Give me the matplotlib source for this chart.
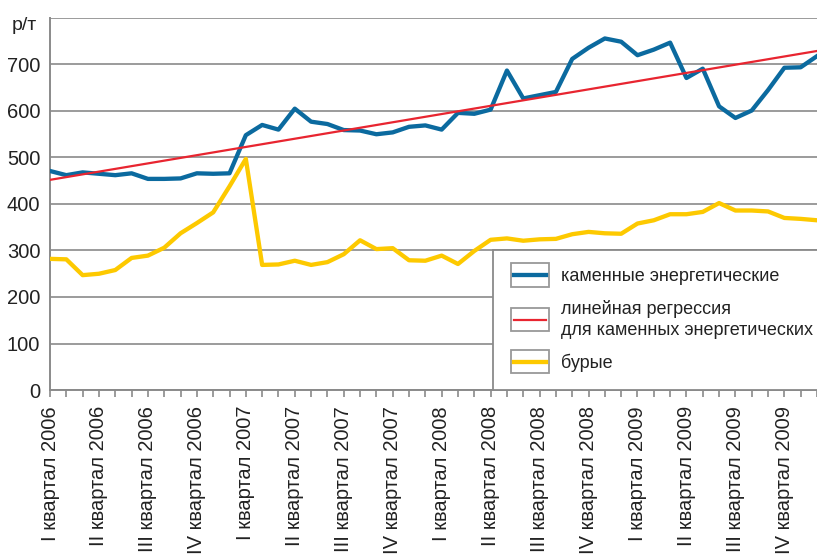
import matplotlib
matplotlib.use('Agg')
import matplotlib.pyplot as plt
import numpy as np
from matplotlib.legend_handler import HandlerLine2D
from matplotlib.lines import Line2D
from matplotlib.patches import Rectangle

plt.rcParams['font.family'] = ['Liberation Sans', 'DejaVu Sans']

# monthly prices, rub/t, Jan 2006 .. Dec 2009
kamennye = [471, 462, 468, 465, 462, 466, 454, 454, 455, 466, 465, 466,
            548, 570, 560, 605, 577, 572, 559, 558, 550, 554, 566, 569,
            560, 596, 594, 603, 687, 627, 634, 641, 712, 736, 756, 749,
            720, 732, 747, 671, 691, 610, 585, 601, 645, 693, 694, 718]
burye = [282, 281, 247, 250, 258, 284, 289, 306, 337, 359, 382, 438,
         497, 269, 270, 278, 269, 275, 292, 322, 303, 305, 279, 278,
         289, 271, 299, 323, 326, 321, 324, 325, 335, 340, 337, 336,
         358, 365, 378, 378, 383, 402, 386, 386, 384, 370, 368, 365]
quarters = ['I', 'II', 'III', 'IV']
years = [2006, 2007, 2008, 2009]
labels = [q + ' квартал ' + str(y) for y in years for q in quarters]

names = ['каменные энергетические',
         'линейная регрессия\nдля каменных энергетических',
         'бурые']

blue = '#0b6a9f'
red = '#e82530'
yellow = '#fdc900'
gray = '#8a8a8a'


class BoxedLine(HandlerLine2D):
    def create_artists(self, legend, orig_handle, xdescent, ydescent,
                       width, height, fontsize, trans):
        cy = (height - ydescent) / 2
        h = fontsize * 1.3
        box = Rectangle((-xdescent, cy - h / 2), width, h, facecolor='white',
                        edgecolor='#999999', lw=1.3, transform=trans)
        ln = Line2D([-xdescent + 2, width - xdescent - 2], [cy, cy],
                    color=orig_handle.get_color(), lw=orig_handle.get_linewidth(),
                    transform=trans)
        return [box, ln]


fig = plt.figure(figsize=(8.17, 5.55), dpi=100)
ax = fig.add_axes([50 / 817, 165 / 555, 767 / 817, 372 / 555])

x = np.arange(len(kamennye))
k, b = np.polyfit(x, kamennye, 1)
xr = np.array([0, len(x)])

l1, = ax.plot(x, kamennye, color=blue, lw=3.1, zorder=3)
l3, = ax.plot(x, burye, color=yellow, lw=3.1, zorder=3)
l2, = ax.plot(xr, k * xr + b, color=red, lw=1.6, zorder=4)

ax.set_xlim(0, 46.5)
ax.set_ylim(0, 800)
ax.set_yticks(range(0, 800, 100))
ax.yaxis.grid(True, color=gray, lw=1.2)
ax.axhline(800, color=gray, lw=1.2, zorder=1)
ax.set_axisbelow(True)
ax.tick_params(axis='y', length=0, pad=7, labelsize=14.5, colors='#222222')

ax.set_xticks(x)
ax.set_xticklabels([labels[i // 3] if i % 3 == 0 else '' for i in x],
                   rotation=90, va='top', ha='center')
ax.tick_params(axis='x', length=5, width=1.2, color=gray, pad=6.5,
               labelsize=14.5, labelcolor='#222222')

for s in ['top', 'right']:
    ax.spines[s].set_visible(False)
for s in ['left', 'bottom']:
    ax.spines[s].set_color(gray)
    ax.spines[s].set_linewidth(1.4)

fig.text(12 / 817, 1 - 30 / 555, 'р/т', fontsize=14, color='#222222', va='baseline')

leg = ax.legend([l1, l2, l3], names, loc='lower left',
                bbox_to_anchor=((493 - 50) / 767, 0), borderaxespad=0,
                fontsize=13, frameon=True, fancybox=False, framealpha=1,
                edgecolor=gray, handlelength=2.1, handletextpad=0.65,
                borderpad=1.0, labelspacing=0.8,
                handler_map={Line2D: BoxedLine()})
leg.get_frame().set_linewidth(1.3)
for t in leg.get_texts():
    t.set_linespacing(1.35)
    t.set_color('#222222')
leg.set_zorder(5)

fig.savefig('out.png', dpi=100)
